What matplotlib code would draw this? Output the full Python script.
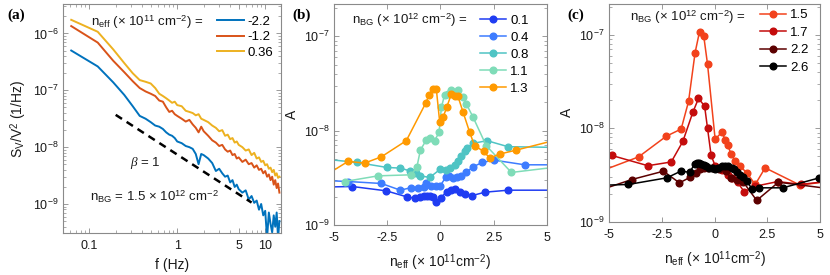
import numpy as np
import matplotlib
matplotlib.use("Agg")
import matplotlib.pyplot as plt

plt.rcParams['font.family'] = ['Liberation Sans', 'DejaVu Sans']
plt.rcParams['mathtext.fontset'] = 'custom'
plt.rcParams['mathtext.rm'] = 'Liberation Sans'
plt.rcParams['mathtext.it'] = 'Liberation Serif:italic'
plt.rcParams['mathtext.bf'] = 'Liberation Sans:bold'
plt.rcParams['axes.unicode_minus'] = False

# ---------------- Panel (a): noise spectra ----------------
freq = [0.0625, 0.125, 0.1875, 0.25, 0.3125, 0.375, 0.4375, 0.5, 0.5625, 0.625,
        0.6875, 0.75, 0.8125, 0.875, 0.9375, 1.0, 1.125, 1.25, 1.375, 1.5,
        1.625, 1.75, 1.875, 2.0, 2.25, 2.5, 2.75, 3.0, 3.25, 3.5,
        3.75, 4.0, 4.25, 4.5, 4.75, 5.0, 5.5, 6.0, 6.5, 7.0,
        7.5, 8.0, 8.5, 9.0, 9.5, 10.0, 10.5, 11.0, 11.5, 12.0,
        12.5, 13.0, 13.5, 14.0, 14.5]
logS_m22 = [-6.30, -6.58, -6.86, -7.08, -7.28, -7.45, -7.50, -7.56, -7.62, -7.64,
            -7.68, -7.74, -7.78, -7.80, -7.84, -7.90, -7.93, -7.98, -8.00, -8.03,
            -8.12, -8.30, -8.12, -8.14, -8.20, -8.28, -8.42, -8.38, -8.46, -8.52,
            -8.50, -8.62, -8.58, -8.70, -8.66, -8.74, -8.80, -8.76, -8.92, -8.86,
            -8.98, -8.94, -9.10, -9.00, -9.20, -9.12, -9.60, -9.15, -9.35, -9.50,
            -9.20, -9.40, -9.15, -9.60, -9.30]
logS_m12 = [-5.87, -6.16, -6.48, -6.68, -6.84, -6.96, -7.02, -7.06, -7.10, -7.18,
            -7.20, -7.30, -7.38, -7.36, -7.42, -7.45, -7.50, -7.55, -7.52, -7.60,
            -7.66, -7.74, -7.64, -7.72, -7.80, -7.88, -7.92, -7.98, -7.96, -8.04,
            -8.08, -8.06, -8.14, -8.12, -8.20, -8.18, -8.26, -8.22, -8.30, -8.28,
            -8.36, -8.32, -8.40, -8.38, -8.46, -8.42, -8.52, -8.48, -8.58, -8.52,
            -8.66, -8.58, -8.72, -8.64, -8.80]
logS_036 = [-5.76, -5.97, -6.28, -6.52, -6.70, -6.82, -6.85, -6.88, -6.96, -7.06,
            -7.10, -7.14, -7.18, -7.22, -7.20, -7.26, -7.28, -7.36, -7.38, -7.40,
            -7.44, -7.42, -7.50, -7.52, -7.56, -7.62, -7.66, -7.72, -7.70, -7.80,
            -7.78, -7.86, -7.84, -7.92, -7.90, -7.96, -8.00, -8.06, -8.04, -8.14,
            -8.10, -8.20, -8.18, -8.26, -8.24, -8.32, -8.30, -8.38, -8.36, -8.44,
            -8.40, -8.50, -8.46, -8.54, -8.52]
a_labels = ['-2.2', '-1.2', '0.36']
a_colors = ['#0072BD', '#D95319', '#EDB120']
beta_f = [0.2, 7.0]
beta_S = [3.7e-8, 1.06e-9]

# ---------------- Panel (b) ----------------
b_n = {
    '0.1': [-5.3, -4.14, -2.54, -1.57, -1.21, -0.97, -0.77, -0.62, -0.50, -0.35, -0.22,
            0.03, 0.31, 0.52, 0.71, 0.91, 1.14, 1.50, 2.10, 3.20, 5.3],
    '0.4': [-5.3, -4.34, -2.77, -1.88, -1.36, -1.05, -0.78, -0.66, -0.45, -0.22, 0.0,
            0.25, 0.41, 0.60, 0.78, 0.99, 1.22, 1.54, 1.97, 2.51, 3.97, 5.3],
    '0.8': [-5.3, -3.92, -2.51, -1.88, -1.44, -1.16, -0.94, -0.50, 0.0, 0.28, 0.47,
            0.67, 0.83, 0.99, 1.14, 1.25, 1.54, 2.19, 3.18, 5.3],
    '1.1': [-4.50, -2.93, -1.36, -1.10, -0.94, -0.66, -0.50, -0.27, -0.06, 0.05, 0.20,
            0.36, 0.52, 0.67, 0.83, 1.07, 1.22, 1.54, 2.16, 3.34, 5.3],
    '1.3': [-5.3, -4.34, -3.56, -2.77, -1.60, -0.69, -0.53, -0.34, -0.19, -0.03, 0.13,
            0.31, 0.52, 0.67, 0.83, 1.07, 1.38, 1.61, 2.04, 2.32, 2.79, 3.57, 5.3],
}
b_logA = {
    '0.1': [-8.597, -8.592, -8.638, -8.702, -8.716, -8.702, -8.695, -8.690, -8.688, -8.700, -8.759,
            -8.709, -8.645, -8.624, -8.617, -8.645, -8.667, -8.688, -8.652, -8.631, -8.631],
    '0.4': [-8.530, -8.539, -8.560, -8.631, -8.603, -8.610, -8.596, -8.560, -8.582, -8.589, -8.582,
            -8.496, -8.482, -8.504, -8.496, -8.479, -8.443, -8.383, -8.337, -8.312, -8.362, -8.362],
    '0.8': [-8.305, -8.337, -8.390, -8.397, -8.426, -8.454, -8.479, -8.496, -8.408, -8.418, -8.397,
            -8.362, -8.319, -8.270, -8.220, -8.184, -8.135, -8.106, -8.170, -8.177],
    '1.1': [-8.539, -8.479, -8.468, -8.383, -8.206, -8.099, -8.082, -8.106, -8.018, -7.752, -7.621,
            -7.610, -7.564, -7.599, -7.574, -7.645, -7.716, -7.858, -8.160, -8.443, -8.390],
    '1.3': [-8.460, -8.326, -8.344, -8.277, -8.106, -7.709, -7.621, -7.557, -7.557, -7.911, -7.858,
            -7.745, -7.610, -7.628, -7.638, -7.805, -8.018, -8.160, -8.220, -8.291, -8.248, -8.206, -8.107],
}
b_colors = {'0.1': '#1f3cf2', '0.4': '#3d7cff', '0.8': '#4fc4c4', '1.1': '#7fdcb8', '1.3': '#ff9a00'}

# ---------------- Panel (c) ----------------
c_n = {
    '1.5': [-5.4, -3.60, -2.29, -1.58, -1.23, -0.92, -0.71, -0.51, -0.33, 0.03, 0.35,
            0.51, 0.62, 0.79, 0.98, 1.22, 1.53, 1.93, 2.40, 4.06, 5.3],
    '1.7': [-4.87, -3.16, -2.05, -1.50, -1.03, -0.76, -0.47, -0.33, -0.16, 0.03, 0.35,
            0.62, 0.85, 1.10, 1.41, 1.93, 3.0, 4.1, 5.3],
    '2.2': [-5.4, -3.92, -2.42, -1.66, -1.15, -0.87, -0.70, -0.50, -0.30, -0.05, 0.20,
            0.55, 0.77, 1.06, 1.37, 2.00, 3.03, 5.4],
    '2.6': [-5.4, -4.08, -2.26, -1.60, -1.18, -0.92, -0.83, -0.72, -0.62, -0.50, -0.38,
            -0.25, -0.10, 0.03, 0.18, 0.34, 0.50, 0.66, 0.82, 0.93, 1.06, 1.22, 1.37,
            1.53, 1.77, 2.13, 3.24, 4.97],
}
c_logA = {
    '1.5': [-8.46, -8.306, -8.085, -8.007, -7.712, -7.189, -6.964, -7.011, -7.313, -8.114, -8.043,
            -8.121, -8.181, -8.274, -8.352, -8.406, -8.477, -8.601, -8.423, -8.609, -8.57],
    '1.7': [-8.29, -8.40, -8.36, -8.14, -7.83, -7.68, -7.76, -8.00, -8.29, -8.40, -8.45,
            -8.50, -8.53, -8.58, -8.68, -8.62, -8.57, -8.60, -8.57],
    '2.2': [-8.66, -8.548, -8.459, -8.584, -8.523, -8.477, -8.44, -8.42, -8.42, -8.43, -8.44,
            -8.459, -8.530, -8.548, -8.577, -8.772, -8.577, -8.645],
    '2.6': [-8.61, -8.601, -8.530, -8.459, -8.470, -8.377, -8.370, -8.370, -8.38, -8.39, -8.40,
            -8.42, -8.43, -8.44, -8.42, -8.405, -8.40, -8.405, -8.42, -8.44, -8.47, -8.50, -8.52,
            -8.56, -8.648, -8.637, -8.637, -8.53],
}
c_colors = {'1.5': '#f2421c', '1.7': '#c40c0c', '2.2': '#5c0000', '2.6': '#000000'}

n_ticks = [-5, -2.5, 0, 2.5, 5]
n_ticklabels = ['-5', '-2.5', '0', '2.5', '5']

SPINE = '#8a8a8a'
TXT = '#1a1a1a'
FS_TICK = 9
FS_LAB = 10
FS_LEG = 9.5

fig = plt.figure(figsize=(8.3, 2.75), dpi=100)
W, H = 830, 275


def px_axes(l, t, r, b):
    return fig.add_axes([l / W, 1 - b / H, (r - l) / W, (b - t) / H])


def style(ax):
    for s in ax.spines.values():
        s.set_color(SPINE)
        s.set_linewidth(0.8)
    ax.tick_params(which='both', direction='in', top=True, right=True,
                   color=SPINE, labelcolor=TXT, labelsize=FS_TICK)
    ax.tick_params(which='major', length=3.5, width=0.6)
    ax.tick_params(which='minor', length=2, width=0.5)
    ax.tick_params(axis='x', which='both', pad=5)
    ax.tick_params(axis='y', which='both', pad=3)


def sub_sup(base, sub):
    return base + '$_\\mathregular{' + sub + '}$'


# Panel a
axa = px_axes(62.7, 4, 280.7, 233.3)
for ls, lab, col in zip([logS_m22, logS_m12, logS_036], a_labels, a_colors):
    axa.plot(freq, 10 ** np.array(ls), color=col, lw=1.4, label=lab)
axa.plot(beta_f, beta_S, ls=(0, (3, 2.2)), color='k', lw=1.8)
axa.set_xscale('log')
axa.set_yscale('log')
axa.set_xlim(0.05, 15)
axa.set_ylim(3.05e-10, 3.3e-6)
axa.set_xticks([0.1, 1, 5, 10])
axa.set_xticklabels(['0.1', '1', '5', '10'])
axa.set_yticks([1e-9, 1e-8, 1e-7, 1e-6])
style(axa)
axa.set_xlabel('f (Hz)', fontsize=FS_LAB, color=TXT, labelpad=4)
axa.set_ylabel('S$_\\mathregular{V}$/V$^\\mathregular{2}$ (1/Hz)', fontsize=FS_LAB, color=TXT, labelpad=3)
axa.text(0.129, 0.904, 'n$_\\mathregular{eff}$ (× 10$^\\mathregular{11}$ cm$^\\mathregular{-2}$) =',
         transform=axa.transAxes, fontsize=FS_LEG, va='baseline', ha='left', color=TXT)
axa.legend(loc='upper left', bbox_to_anchor=(0.71, 0.949), frameon=False, fontsize=FS_LEG,
           handlelength=2.0, handletextpad=0.3, labelspacing=0.25, borderpad=0, borderaxespad=0)
fig.text(145 / W, 1 - 163 / H, '$\\it{\\beta}$ = 1', fontsize=FS_LEG, ha='center', va='center', color=TXT)
axa.text(0.125, 0.158, 'n$_\\mathregular{BG}$ = 1.5 × 10$^\\mathregular{12}$ cm$^\\mathregular{-2}$',
         transform=axa.transAxes, fontsize=FS_LEG, ha='left', va='center', color=TXT)
fig.text(7 / W, 1 - 15 / H, '(a)', family='Liberation Serif', weight='bold', fontsize=11,
         va='center', ha='left')

# Panel b
axb = px_axes(334, 4, 546.7, 225)
for key in ['0.1', '0.4', '0.8', '1.1', '1.3']:
    axb.plot(b_n[key], 10 ** np.array(b_logA[key]), '-o', color=b_colors[key], lw=1.1,
             ms=4.8, mec=b_colors[key], label=key)
axb.set_yscale('log')
axb.set_xlim(-5, 5)
axb.set_ylim(1e-9, 2.2e-7)
axb.set_xticks(n_ticks)
axb.set_xticklabels(n_ticklabels)
axb.set_yticks([1e-9, 1e-8, 1e-7])
style(axb)
axb.set_xlabel('n$_\\mathregular{eff}$ (× 10$^\\mathregular{11}$cm$^\\mathregular{-2}$)', fontsize=FS_LAB,
               color=TXT, labelpad=6)
axb.set_ylabel('A', fontsize=FS_LAB, color=TXT, labelpad=4)
axb.text(0.083, 0.9095, 'n$_\\mathregular{BG}$ (× 10$^\\mathregular{12}$ cm$^\\mathregular{-2}$) =',
         transform=axb.transAxes, fontsize=FS_LEG, va='baseline', ha='left', color=TXT)
axb.legend(loc='upper left', bbox_to_anchor=(0.686, 0.951), frameon=False, fontsize=FS_LEG,
           handlelength=2.0, handletextpad=0.3, labelspacing=0.36, borderpad=0, borderaxespad=0)
fig.text(292 / W, 1 - 15 / H, '(b)', family='Liberation Serif', weight='bold', fontsize=11,
         va='center', ha='left')

# Panel c
axc = px_axes(609, 4, 820, 221.7)
for key in ['1.5', '1.7', '2.2', '2.6']:
    axc.plot(c_n[key], 10 ** np.array(c_logA[key]), '-o', color=c_colors[key], lw=1.1,
             ms=4.8, mec=c_colors[key], label=key)
axc.set_yscale('log')
axc.set_xlim(-5, 5)
axc.set_ylim(1e-9, 2.15e-7)
axc.set_xticks(n_ticks)
axc.set_xticklabels(n_ticklabels)
axc.set_yticks([1e-9, 1e-8, 1e-7])
style(axc)
axc.set_xlabel('n$_\\mathregular{eff}$ (× 10$^\\mathregular{11}$cm$^\\mathregular{-2}$)', fontsize=FS_LAB,
               color=TXT, labelpad=6)
axc.set_ylabel('A', fontsize=FS_LAB, color=TXT, labelpad=4)
axc.text(0.10, 0.922, 'n$_\\mathregular{BG}$ (× 10$^\\mathregular{12}$ cm$^\\mathregular{-2}$) =',
         transform=axc.transAxes, fontsize=FS_LEG, va='baseline', ha='left', color=TXT)
axc.legend(loc='upper left', bbox_to_anchor=(0.716, 0.977), frameon=False, fontsize=FS_LEG,
           handlelength=2.0, handletextpad=0.3, labelspacing=0.4, borderpad=0, borderaxespad=0)
fig.text(567 / W, 1 - 15 / H, '(c)', family='Liberation Serif', weight='bold', fontsize=11,
         va='center', ha='left')

fig.savefig('out.png', dpi=100)
